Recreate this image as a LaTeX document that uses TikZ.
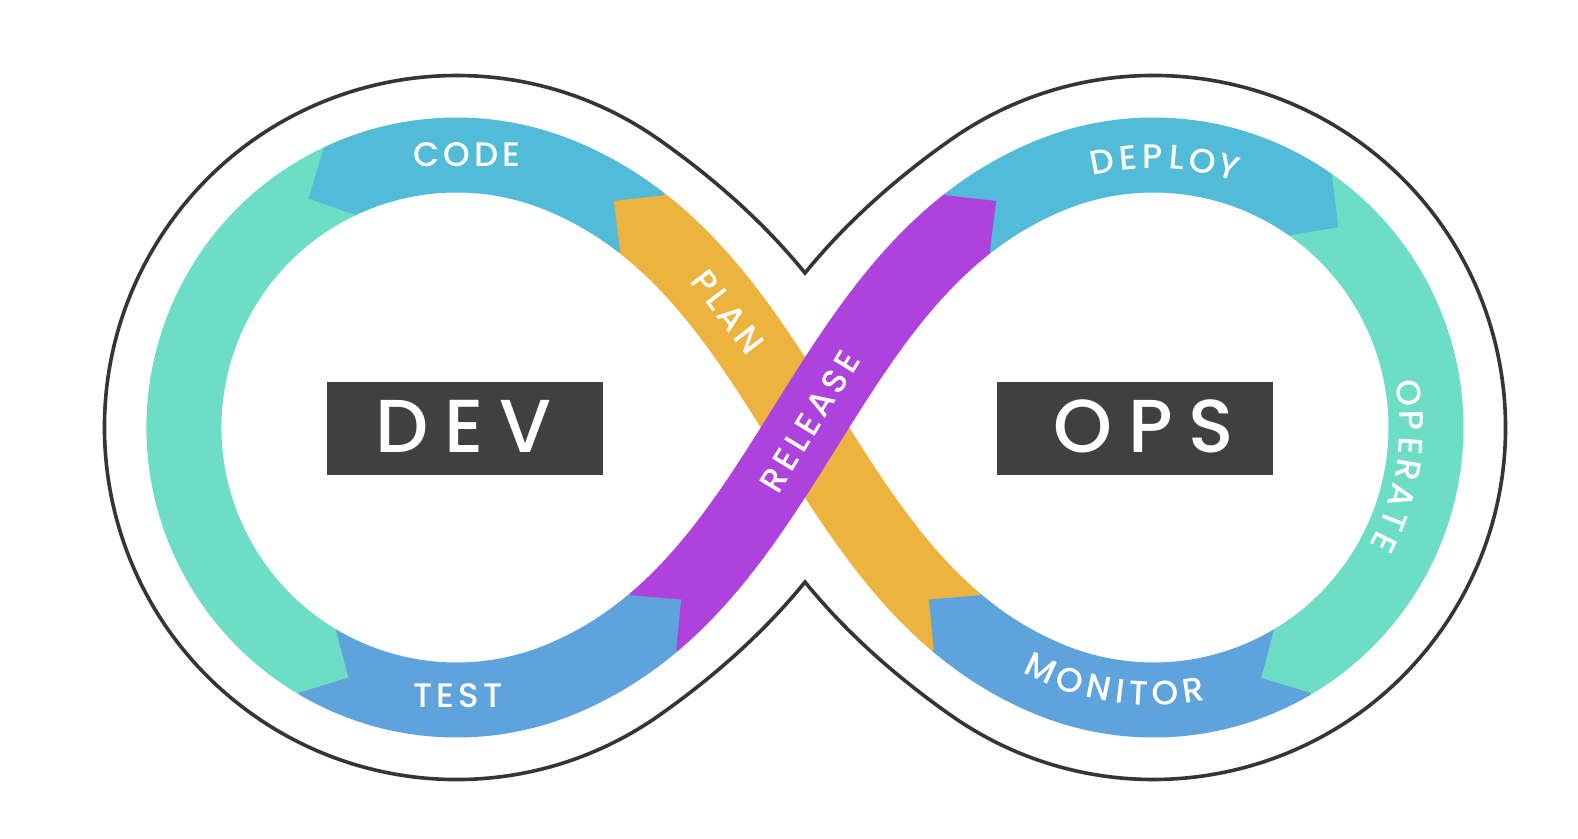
\documentclass[tikz,border=0pt]{standalone}
\usepackage{fontspec}
\setmainfont{Poppins}
\newfontfamily\labfont{Poppins Medium}[LetterSpace=12]
\newfontfamily\chfont{Poppins Medium}
\newfontfamily\bigfont{Poppins Medium}[LetterSpace=21]
\definecolor{cCode}{HTML}{52BBD8}
\definecolor{cTeal}{HTML}{6EDDC6}
\definecolor{cTest}{HTML}{5EA3DC}
\definecolor{cOrange}{HTML}{EDB33F}
\definecolor{cPurple}{HTML}{AE42DD}
\definecolor{cBox}{HTML}{404040}
\definecolor{cLine}{HTML}{353535}
\tikzset{
  band/.style={line width=75pt, line cap=butt, line join=round},
  outl/.style={cLine, line width=3.6pt, line join=miter},
  headnode/.style={sloped, allow upside down, shape=rectangle, inner sep=0pt, outer sep=0pt, minimum width=76pt, minimum height=75pt},
  hp/.style={sloped, allow upside down, shape=rectangle, inner sep=0pt, outer sep=0pt, minimum width=1500pt, minimum height=1500pt},
  lab/.style={text=white, inner sep=0pt, font=\labfont\fontsize{34}{34}\selectfont},
  chr/.style={text=white, inner sep=0pt, font=\chfont\fontsize{34}{34}\selectfont},
  big/.style={text=white, inner sep=0pt, font=\bigfont\fontsize{75}{75}\selectfont},
  boxst/.style={fill=cBox, inner sep=0pt, minimum width=276pt, minimum height=93.5pt}
}
\newcommand{\rch}[5]{\node[chr, rotate=#4] (#1) at ([shift={(#3:#5pt)}]R) {#2};}
\newcommand{\tipL}[3]{\fill[#1] ([shift={(#2:310pt)}]L) -- ([shift={(#3:272.5pt)}]L) -- ([shift={(#2:235pt)}]L) -- cycle;}
\newcommand{\tipR}[3]{\fill[#1] ([shift={(#2:310pt)}]R) -- ([shift={(#3:272.5pt)}]R) -- ([shift={(#2:235pt)}]R) -- cycle;}
\newcommand{\cliprect}[1]{\clip (#1.north west) -- (#1.north east) -- (#1.south east) -- (#1.south west) -- cycle;}
\begin{document}
\begin{tikzpicture}[x=1pt,y=1pt]
\useasboundingbox[fill=white] (-805,-410.5) rectangle (773,427.5);
\coordinate (M) at (0,0);
\coordinate (L) at (-348.5,0);
\coordinate (R) at (348.5,0);
\coordinate (oA) at (-246.42,252.66);
\coordinate (oB) at (-9.52,156.96);
\coordinate (oC) at (9.52,-156.96);
\coordinate (oD) at (246.42,-252.66);
\coordinate (pA) at (-246.42,-252.66);
\coordinate (pB) at (-9.52,-156.96);
\coordinate (pC) at (9.52,156.96);
\coordinate (pD) at (246.42,252.66);
\coordinate (At) at (0,154.5);
\coordinate (Ab) at (0,-154.5);
% outline of the figure eight
\draw[outl] (At) .. controls (-41.6,205.7) and (-92.5,250.4) .. (-146.6,288.3)
  arc[start angle=55, end angle=305, radius=352pt]
  .. controls (-92.5,-250.4) and (-41.6,-205.7) .. (Ab)
  .. controls (41.6,-205.7) and (92.5,-250.4) .. (146.6,-288.3)
  arc[start angle=235, end angle=485, radius=352pt]
  .. controls (92.5,250.4) and (41.6,205.7) .. (At) -- cycle;
% helper nodes along the two crossing bands
\path (oA) .. controls (oB) and (oC) .. (oD)
  node[headnode, pos=0.135] (oh) {}
  node[headnode, pos=0.85] (mh) {}
  node[hp, pos=0.132, anchor=east] (hpA) {}
  node[hp, pos=0.132, anchor=west] (hpB) {}
  node[hp, pos=0.847, anchor=east] (hpC) {}
  node[hp, pos=0.847, anchor=west] (hpD) {};
\path (pA) .. controls (pB) and (pC) .. (pD)
  node[headnode, pos=0.15] (th) {}
  node[headnode, pos=0.865] (ph) {}
  node[hp, pos=0.153, anchor=east] (hpE) {}
  node[hp, pos=0.153, anchor=west] (hpF) {}
  node[hp, pos=0.868, anchor=east] (hpG) {}
  node[hp, pos=0.868, anchor=west] (hpH) {};
% teal segments
\draw[band, cTeal] ([shift={(115.5:272.5pt)}]L) arc[start angle=115.5, end angle=239.2, radius=272.5pt];
\draw[band, cTeal] ([shift={(54.7:272.5pt)}]R) arc[start angle=54.7, end angle=-59.3, radius=272.5pt];
% PLAN band
\begin{scope}\cliprect{hpB}\cliprect{hpC}
\draw[band, cOrange] (oA) .. controls (oB) and (oC) .. (oD);
\end{scope}
% RELEASE band
\begin{scope}\cliprect{hpF}\cliprect{hpG}
\draw[band, cPurple] (pA) .. controls (pB) and (pC) .. (pD);
\end{scope}
% CODE (left top, running into the orange band)
\begin{scope}\cliprect{hpA}
\draw[band, cCode] ([shift={(115.5:272.5pt)}]L) arc[start angle=115.5, end angle=68, radius=272.5pt]
  .. controls (oB) and (oC) .. (oD);
\end{scope}
% MONITOR (right bottom, running into the orange band)
\begin{scope}\cliprect{hpD}
\draw[band, cTest] ([shift={(-59.3:272.5pt)}]R) arc[start angle=-59.3, end angle=-112, radius=272.5pt]
  .. controls (oC) and (oB) .. (oA);
\end{scope}
% TEST (left bottom, running into the purple band)
\begin{scope}\cliprect{hpE}
\draw[band, cTest] ([shift={(239.2:272.5pt)}]L) arc[start angle=239.2, end angle=292, radius=272.5pt]
  .. controls (pB) and (pC) .. (pD);
\end{scope}
% DEPLOY (right top, running into the purple band)
\begin{scope}\cliprect{hpH}
\draw[band, cCode] ([shift={(54.7:272.5pt)}]R) arc[start angle=54.7, end angle=112, radius=272.5pt]
  .. controls (pC) and (pB) .. (pA);
\end{scope}
% arrow tips on the rings
\tipL{cCode}{115.3}{122.9}
\tipL{cTeal}{239.0}{246.6}
\tipR{cCode}{54.9}{47.3}
\tipR{cTeal}{-59.1}{-66.7}
% arrow tips on the crossing bands
\fill[cOrange] (oh.north) -- (oh.west) -- (oh.south) -- cycle;
\fill[cTest] (mh.north) -- (mh.west) -- (mh.south) -- cycle;
\fill[cTest] (th.north) -- (th.east) -- (th.south) -- cycle;
\fill[cPurple] (ph.north) -- (ph.east) -- (ph.south) -- cycle;
% boxes
\node[boxst] (devbox) at (-340,-0.75) {};
\node[boxst] (opsbox) at (329.5,-0.75) {};
\node[big] (dev) at (-341.5,1.5) {DEV};
\node[big] (ops) at (339,1.5) {OPS};
% straight labels
\node[lab] (code) at (-338,273) {CODE};
\node[lab] (test) at (-347,-268) {TEST};
\node[lab, rotate=-52.5] (plan) at (-77,115.5) {PLAN};
\node[lab, rotate=58.5] (release) at (5,6) {RELEASE};
% DEPLOY
\rch{d1}{D}{100.96}{10.96}{271}
\rch{d2}{E}{95.41}{5.41}{271}
\rch{d3}{P}{90.14}{0.14}{271}
\rch{d4}{L}{85.11}{-4.89}{271}
\rch{d5}{O}{79.63}{-10.37}{271}
\rch{d6}{Y}{73.85}{-16.15}{271}
% OPERATE
\rch{o1}{O}{7.67}{-82.33}{258}
\rch{o2}{P}{1.49}{-88.51}{258}
\rch{o3}{E}{-4.05}{-94.05}{258}
\rch{o4}{R}{-9.59}{-99.59}{258}
\rch{o5}{A}{-15.49}{-105.49}{258}
\rch{o6}{T}{-21.17}{-111.17}{258}
\rch{o7}{E}{-26.49}{-116.49}{258}
% MONITOR
\rch{m1}{M}{245.02}{-24.98}{266}
\rch{m2}{O}{251.78}{-18.22}{266}
\rch{m3}{N}{258.16}{-11.84}{266}
\rch{m4}{I}{262.80}{-7.20}{266}
\rch{m5}{T}{266.85}{-3.15}{266}
\rch{m6}{O}{272.64}{2.64}{266}
\rch{m7}{R}{278.64}{8.64}{266}
\end{tikzpicture}
\end{document}
